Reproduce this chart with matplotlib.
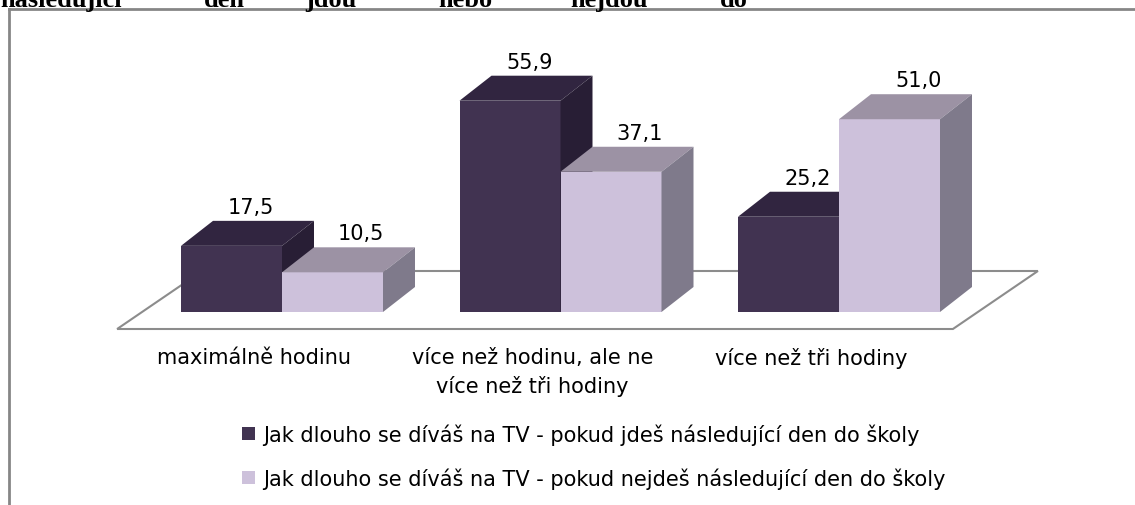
import matplotlib
matplotlib.use("Agg")
import matplotlib.pyplot as plt
from matplotlib.patches import Polygon, Patch
from matplotlib.lines import Line2D

plt.rcParams['font.family'] = ['DejaVu Sans']

# data
categories = ['maximálně hodinu', 'více než hodinu, ale ne\nvíce než tři hodiny', 'více než tři hodiny']
series_names = ['Jak dlouho se díváš na TV - pokud jdeš následující den do školy',
                'Jak dlouho se díváš na TV - pokud nejdeš následující den do školy']
jdes = [17.5, 55.9, 25.2]
nejdes = [10.5, 37.1, 51.0]
title_words = ['následující', 'den', 'jdou', 'nebo', 'nejdou', 'do']

# colours: front, top, side
dark = ('#413351', '#312540', '#281e35')
light = ('#cdc1db', '#9c92a4', '#7f7a8b')

W, H = 1135, 506
fig = plt.figure(figsize=(W / 100, H / 100), dpi=100)
ax = fig.add_axes([0, 0, 1, 1])
# axis scale: one group per unit, 3.78 px per percent
px_x, px_y = 278.5, 3.78
x0, y0 = 282, 313
ax.set_xlim(-x0 / px_x, (W - x0) / px_x)
ax.set_ylim(-(H - y0) / px_y, y0 / px_y)
ax.axis('off')

bw = 101 / px_x          # bar width
ddx, ddy = 32 / px_x, 25 / px_y   # bar depth

# floor
fdx, fdy = 85 / px_x, 58 / px_y
fl, fr, fy = -0.592, 2.409, -17 / px_y
floor = Polygon([(fl, fy), (fr, fy), (fr + fdx, fy + fdy), (fl + fdx, fy + fdy)],
                closed=True, facecolor='white', edgecolor='#8c8c8c', lw=1.5, zorder=1)
ax.add_patch(floor)


def bar3d(x, h, cols, z):
    ax.bar(x, h, width=bw, align='edge', color=cols[0], zorder=z, linewidth=0)
    top = Polygon([(x, h), (x + bw, h), (x + bw + ddx, h + ddy), (x + ddx, h + ddy)],
                  closed=True, facecolor=cols[1], edgecolor='none', zorder=z)
    side = Polygon([(x + bw, 0), (x + bw + ddx, ddy), (x + bw + ddx, h + ddy), (x + bw, h)],
                   closed=True, facecolor=cols[2], edgecolor='none', zorder=z)
    ax.add_patch(top)
    ax.add_patch(side)


def fmt(v):
    return f'{v:.1f}'.replace('.', ',')


for i in range(len(categories)):
    bar3d(i - bw, jdes[i], dark, 2 + 2 * i)
    bar3d(i, nejdes[i], light, 3 + 2 * i)
    ax.text(i - bw / 2 + ddx * 0.6, jdes[i] + ddy + 14 / px_y, fmt(jdes[i]),
            ha='center', va='center', fontsize=15, color='black', zorder=10)
    ax.text(i + bw / 2 + ddx * 0.9, nejdes[i] + ddy + 14 / px_y, fmt(nejdes[i]),
            ha='center', va='center', fontsize=15, color='black', zorder=10)

for i, c in enumerate(categories):
    ax.text(i - 28 / px_x, -(348 - y0) / px_y, c, ha='center', va='top',
            fontsize=15, linespacing=1.5, color='black')

# legend
handles = [Patch(facecolor=dark[0]), Patch(facecolor=light[0])]
fig.legend(handles, series_names, loc='center left', bbox_to_anchor=(232 / W, 1 - 457 / H),
           frameon=False, fontsize=15, handlelength=0.6, handleheight=0.6,
           handletextpad=0.4, labelspacing=1.1, borderpad=0)

# frame
fc = '#868686'
fig.add_artist(Line2D([9 / W, 1], [1 - 10 / H, 1 - 10 / H], color=fc, lw=2))
fig.add_artist(Line2D([9 / W, 9 / W], [0, 1 - 10 / H], color=fc, lw=2))

# cut-off text of the surrounding document
word_x = [0, 204, 305, 438, 570, 720]
for wx, wd in zip(word_x, title_words):
    fig.text(wx / W, 1 - 7 / H, wd, ha='left', va='baseline', fontsize=19,
             fontweight='bold', family='Liberation Serif')

fig.savefig('out.png', dpi=100)
